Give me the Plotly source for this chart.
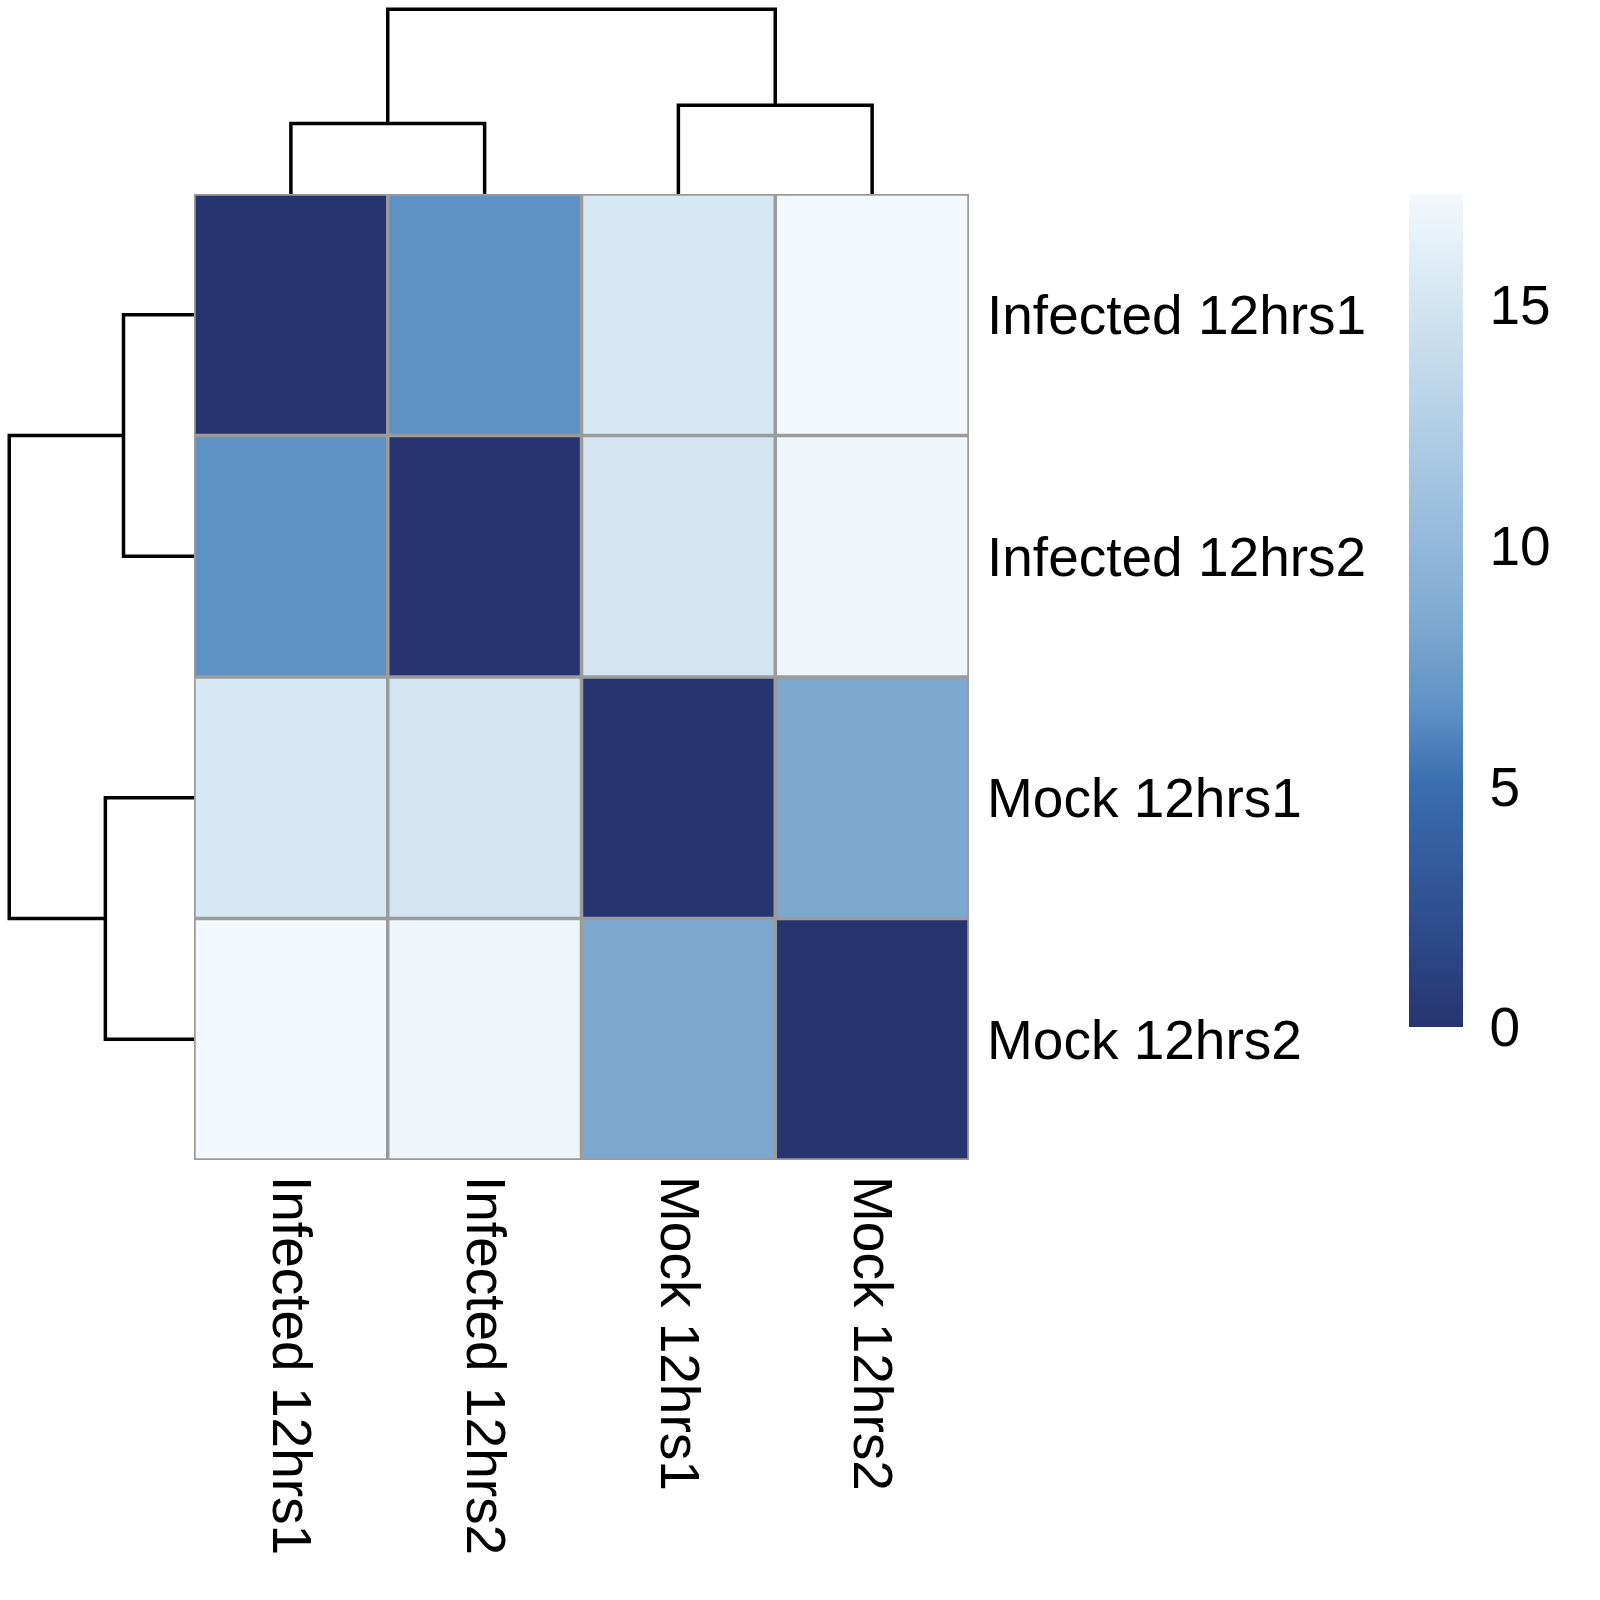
import plotly.graph_objects as go

samples = ["Infected 12hrs1", "Infected 12hrs2", "Mock 12hrs1", "Mock 12hrs2"]
# sample-to-sample distances (symmetric)
dist = [
    [0.0, 6.6, 15.3, 17.3],
    [6.6, 0.0, 15.0, 17.0],
    [15.3, 15.0, 0.0, 8.3],
    [17.3, 17.0, 8.3, 0.0],
]
cb_ticks = [0, 5, 10, 15]

# colour scale
zmax = 17.3
cs_vals = [0.0, 5.0, 6.6, 8.3, 10.0, 15.0, 17.0, 17.3]
cs_cols = ["#263570", "#3A6DB0", "#5E91C4", "#7CA8D0", "#93B8DB", "#D2E5F1", "#EFF6FB", "#F3F8FC"]
colorscale = [[v / zmax, c] for v, c in zip(cs_vals, cs_cols)]

W = H = 1600
hm_l, hm_r, hm_t, hm_b = 194, 969, 194, 1160
FONT = "Liberation Sans, Arial, Helvetica, sans-serif"
FS = 55
GRID = "#9B9B9B"


def complete_linkage(d):
    n = len(d)
    clusters = {i: dict(members=[i], pos=float(i), h=0.0) for i in range(n)}
    segs = []
    nid = n
    while len(clusters) > 1:
        keys = list(clusters)
        best = None
        for a in range(len(keys)):
            for b in range(a + 1, len(keys)):
                ca, cb = clusters[keys[a]], clusters[keys[b]]
                dd = max(d[i][j] for i in ca["members"] for j in cb["members"])
                if best is None or dd < best[0]:
                    best = (dd, keys[a], keys[b])
        dd, ka, kb = best
        ca, cb = clusters.pop(ka), clusters.pop(kb)
        segs.append(((ca["pos"], ca["h"]), (ca["pos"], dd), (cb["pos"], dd), (cb["pos"], cb["h"])))
        clusters[nid] = dict(members=ca["members"] + cb["members"], pos=(ca["pos"] + cb["pos"]) / 2, h=dd)
        nid += 1
    return segs


segs = complete_linkage(dist)
top_h = max(s[1][1] for s in segs)

fig = go.Figure()

fig.add_trace(go.Heatmap(
    z=dist, x=list(range(4)), y=list(range(4)),
    zmin=0, zmax=zmax, colorscale=colorscale, hoverinfo="skip",
    colorbar=dict(
        x=1409 / W, xanchor="left", xref="paper", xpad=0,
        y=1 - 194 / H, yanchor="top", yref="paper", ypad=0,
        len=(1027 - 194) / H, lenmode="fraction",
        thickness=54, thicknessmode="pixels",
        outlinewidth=0, tickvals=cb_ticks,
        ticks="outside", ticklen=16, tickcolor="rgba(0,0,0,0)",
        tickfont=dict(family=FONT, size=FS, color="black"),
    ),
))

for s in segs:
    xs = [p[0] for p in s]
    ys = [p[1] for p in s]
    # column dendrogram (top)
    fig.add_trace(go.Scatter(x=xs, y=ys, mode="lines", line=dict(color="black", width=3.5),
                             xaxis="x2", yaxis="y2", showlegend=False, hoverinfo="skip"))
    # row dendrogram (left)
    fig.add_trace(go.Scatter(x=ys, y=xs, mode="lines", line=dict(color="black", width=3.5),
                             xaxis="x3", yaxis="y3", showlegend=False, hoverinfo="skip"))

hx = [hm_l / W, hm_r / W]
hy = [1 - hm_b / H, 1 - hm_t / H]

shapes = []
for k in range(5):
    v = k - 0.5
    shapes.append(dict(type="line", xref="x", yref="y", x0=v, x1=v, y0=-0.5, y1=3.5,
                       line=dict(color=GRID, width=3.5)))
    shapes.append(dict(type="line", xref="x", yref="y", x0=-0.5, x1=3.5, y0=v, y1=v,
                       line=dict(color=GRID, width=3.5)))

fig.update_layout(
    width=W, height=H,
    margin=dict(l=0, r=0, t=0, b=0),
    paper_bgcolor="white", plot_bgcolor="white",
    font=dict(family=FONT, size=FS, color="black"),
    xaxis=dict(domain=hx, range=[-0.5, 3.5], tickvals=list(range(4)), ticktext=samples,
               tickangle=90, showgrid=False, zeroline=False, ticks="outside", ticklen=4,
               tickcolor="rgba(0,0,0,0)", tickfont=dict(size=FS), fixedrange=True),
    yaxis=dict(domain=hy, range=[3.5, -0.5], tickvals=list(range(4)), ticktext=samples,
               side="right", showgrid=False, zeroline=False, ticks="outside", ticklen=6,
               tickcolor="rgba(0,0,0,0)", tickfont=dict(size=FS), fixedrange=True),
    xaxis2=dict(domain=hx, range=[-0.5, 3.5], visible=False, anchor="y2"),
    yaxis2=dict(domain=[1 - hm_t / H, 1.0], range=[0, top_h * 1.05], visible=False, anchor="x2"),
    xaxis3=dict(domain=[0.0, hm_l / W], range=[top_h * 1.05, 0], visible=False, anchor="y3"),
    yaxis3=dict(domain=hy, range=[3.5, -0.5], visible=False, anchor="x3"),
    shapes=shapes,
)

fig.write_html("out.html", config={"displayModeBar": False},
               post_script="document.body.style.margin='0';")
